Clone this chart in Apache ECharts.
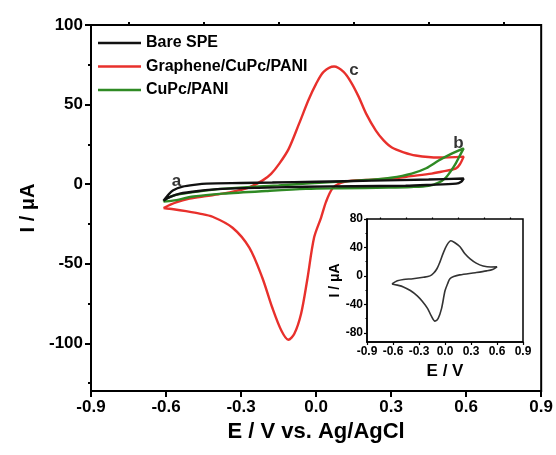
<!DOCTYPE html>
<html>
<head>
<meta charset="utf-8">
<script src="https://cdn.jsdelivr.net/npm/echarts@6/dist/echarts.min.js"></script>
<style>html,body{margin:0;padding:0;background:#fff}#c{width:556px;height:455px}</style>
</head>
<body>
<div id="c"></div>
<script>
// ---- data (E in V, I in µA) ----
const seriesNames = ['Bare SPE', 'Graphene/CuPc/PANI', 'CuPc/PANI'];
const bareSPE = [
  [-0.61,-10.5],[-0.59,-6.5],[-0.573,-4],[-0.534,-1.6],[-0.48,-0.3],[-0.438,0.3],[-0.3,0.7],[-0.175,1],[0,1.5],[0.223,2.2],[0.45,2.9],[0.59,3.5],
  [0.58,1.5],[0.56,0.3],[0.45,-0.5],[0.358,-1],[0.15,-1.3],[-0.04,-1.6],[-0.2,-2.2],[-0.374,-3],[-0.47,-4.3],[-0.545,-6],[-0.59,-8.5],[-0.61,-10.5]
];
const graphene = [
  [-0.61,-15],[-0.56,-11.5],[-0.506,-9.1],[-0.44,-7.5],[-0.374,-6],[-0.32,-4.3],[-0.267,-2],[-0.215,2.2],[-0.18,6.5],[-0.147,12.9],[-0.11,22],[-0.068,38],[-0.03,53],[0.0,63],[0.03,70.5],[0.072,73.9],[0.11,70.5],[0.14,64],[0.17,55],[0.2,44.3],[0.239,33.6],[0.27,27.5],[0.303,23],[0.35,20],[0.398,18],[0.49,16.7],[0.59,17.3],
  [0.575,12.5],[0.558,9.7],[0.5,7.8],[0.462,6.6],[0.38,5],[0.303,3.5],[0.2,2.6],[0.143,2.2],[0.092,0.3],[0.064,-3],[0.04,-11],[0.02,-21],[-0.008,-33.6],[-0.036,-60.7],[-0.06,-81.4],[-0.087,-94],[-0.111,-97.8],[-0.139,-92],[-0.175,-77.7],[-0.215,-58.8],[-0.267,-39.9],[-0.334,-27.4],[-0.414,-20.5],[-0.466,-18.5],[-0.52,-17],[-0.57,-15.8],[-0.61,-15]
];
const cupcPani = [
  [-0.61,-11],[-0.597,-9],[-0.56,-6.8],[-0.506,-5.3],[-0.4,-3.3],[-0.306,-2.2],[-0.15,-0.8],[-0.04,0.3],[0.1,1.6],[0.223,2.8],[0.3,4],[0.382,6.6],[0.44,10],[0.49,14.8],[0.54,19],[0.59,22.5],
  [0.575,18],[0.558,12.9],[0.538,8],[0.518,4],[0.49,1],[0.45,-1],[0.38,-1.8],[0.29,-2.2],[0.1,-2.6],[-0.04,-3],[-0.2,-4.3],[-0.374,-6],[-0.49,-7.8],[-0.573,-10.4],[-0.61,-11]
];
const insetCV = [
  [-0.612,-11.3],[-0.55,-7],[-0.48,-5],[-0.37,-4],[-0.25,-2],[-0.173,0],[-0.13,4],[-0.093,10],[-0.06,19],[-0.024,31],[0.02,43],[0.069,49.4],[0.11,47],[0.173,41],[0.23,31],[0.29,24],[0.36,18],[0.44,14],[0.53,12.5],[0.6,12.7],
  [0.55,9],[0.48,7],[0.35,4.5],[0.17,1.4],[0.1,-1],[0.057,-4],[0.03,-11],[0.0,-21],[-0.04,-46],[-0.08,-60],[-0.116,-63.6],[-0.16,-56],[-0.2,-46],[-0.26,-36],[-0.32,-28],[-0.4,-20.5],[-0.48,-15.5],[-0.55,-13],[-0.612,-11.3]
];
const annotations = [
  {text:'a', E:-0.558, I:1.6},
  {text:'b', E:0.569, I:25.5},
  {text:'c', E:0.151, I:71.4}
];
const xTicks = [-0.9,-0.6,-0.3,0,0.3,0.6,0.9];
const xMinor = [-0.75,-0.45,-0.15,0.15,0.45,0.75];
const yTicksMain = [-100,-50,0,50,100];
const yMinorMain = [-125,-75,-25,25,75];
const yTicksInset = [-80,-40,0,40,80];
const yMinorInset = [-60,-20,20,60];

const FONT = '"Liberation Sans", Arial, sans-serif';
const lblStyle = (size) => ({fontFamily: FONT, fontWeight: 'bold', fontSize: size, color: '#000'});

function xAxisDef(grid, fs, tickLen, labelMargin, name, nameGap, nameSize) {
  const w = grid===0 ? 2 : 1.2;
  return [{
    type:'value', gridIndex:grid, min:-0.9, max:0.9,
    axisLine:{show:true, onZero:false, lineStyle:{color:'#000', width: grid===0?2:1.5}},
    axisTick:{show:true, customValues:xTicks, length:tickLen, lineStyle:{color:'#000', width:w}},
    axisLabel:{show:true, customValues:xTicks, margin:labelMargin, formatter:v=>Number(v).toFixed(1), ...lblStyle(fs)},
    splitLine:{show:false},
    name:name, nameLocation:'middle', nameGap:nameGap, nameTextStyle:lblStyle(nameSize)
  },{
    type:'value', gridIndex:grid, min:-0.9, max:0.9,
    axisLine:{show:false, onZero:false},
    axisTick:{show:true, customValues:xMinor, length:tickLen/2, lineStyle:{color:'#000', width:w}},
    axisLabel:{show:false}, splitLine:{show:false}
  }];
}
function yAxisDef(grid, min, max, major, minor, fs, tickLen, labelMargin, name, nameGap, nameSize) {
  const w = grid===0 ? 2 : 1.2;
  return [{
    type:'value', gridIndex:grid, min:min, max:max, position:'left',
    axisLine:{show:true, onZero:false, lineStyle:{color:'#000', width: grid===0?2:1.5}},
    axisTick:{show:true, customValues:major, length:tickLen, lineStyle:{color:'#000', width:w}},
    axisLabel:{show:true, customValues:major, margin:labelMargin, ...lblStyle(fs)},
    splitLine:{show:false},
    name:name, nameLocation:'middle', nameGap:nameGap, nameRotate:90, nameTextStyle:lblStyle(nameSize)
  },{
    type:'value', gridIndex:grid, min:min, max:max, position:'left',
    axisLine:{show:false, onZero:false},
    axisTick:{show:true, customValues:minor, length:tickLen/2, lineStyle:{color:'#000', width:w}},
    axisLabel:{show:false}, splitLine:{show:false}
  }];
}

const chart = echarts.init(document.getElementById('c'), null, {renderer:'canvas'});
const colors = ['#111111', '#e8302c', '#2f8a24'];
const mainData = [bareSPE, graphene, cupcPani];

const option = {
  animation:false,
  backgroundColor:'#fff',
  grid:[
    {left:91, right:13, top:25, bottom:64, show:true, borderColor:'#000', borderWidth:2, backgroundColor:'transparent'},
    {left:367, right:33, top:219, bottom:113, show:true, borderColor:'#000', borderWidth:1.5, backgroundColor:'#fff'}
  ],
  xAxis:[
    ...xAxisDef(0, 17, 6, 8, 'E / V vs. Ag/AgCl', 29, 22),
    ...xAxisDef(1, 12, 3, 4, 'E / V', 21, 17)
  ],
  yAxis:[
    ...yAxisDef(0, -130, 100, yTicksMain, yMinorMain, 17, 6, 8, 'I / μA', 52, 20),
    ...yAxisDef(1, -93, 80, yTicksInset, yMinorInset, 12, 3, 4, 'I / μA', 24, 14)
  ],
  legend:{
    show:true, orient:'vertical', left:93, top:29, itemWidth:43, itemHeight:2.5, itemGap:5.5,
    data:seriesNames.map(n=>({name:n, icon:'rect'})),
    textStyle:{...lblStyle(16), lineHeight:18}
  },
  series:[
    ...mainData.map((d,i)=>({
      name:seriesNames[i], type:'line', xAxisIndex:0, yAxisIndex:0, data:d,
      showSymbol:false, symbol:'none', smooth:0.3, color:colors[i],
      itemStyle:{color:colors[i]},
      lineStyle:{color:colors[i], width:2.4}, z: i===0?3:2
    })),
    {
      type:'line', xAxisIndex:2, yAxisIndex:2, data:insetCV, showSymbol:false, symbol:'none',
      smooth:0.3, lineStyle:{color:'#333', width:1.6}, z:5
    },
    {
      type:'scatter', xAxisIndex:0, yAxisIndex:0, symbolSize:0,
      data:annotations.map(a=>({value:[a.E,a.I], name:a.text})),
      label:{show:true, position:'inside', formatter:p=>p.name, ...lblStyle(17)},
      z:6, silent:true
    }
  ]
};
chart.setOption(option);
</script>
</body>
</html>
